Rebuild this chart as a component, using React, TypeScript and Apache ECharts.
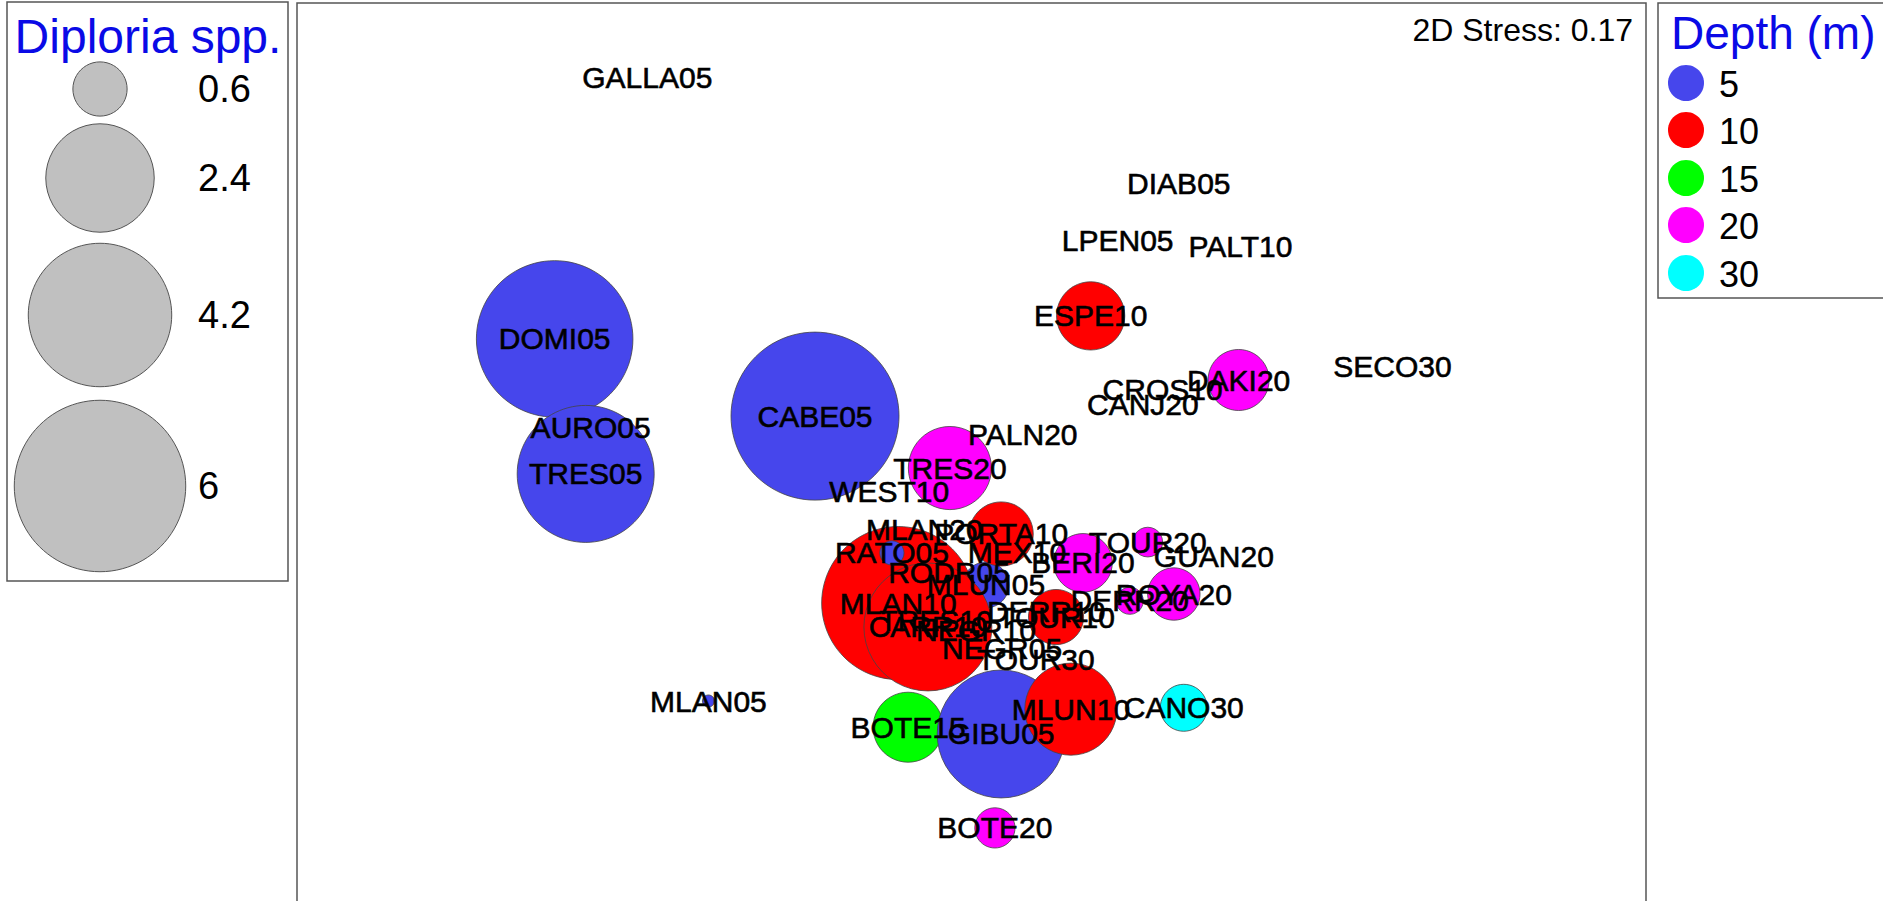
import React, { useEffect, useRef } from "react";
import * as echarts from "echarts";

// MDS sample names, in drawing order
const siteNames = [
  "DOMI05", "TRES05", "CABE05", "ESPE10", "DAKI20", "TRES20", "MLUN05", "MLAN10", "CARR10", "PORTA10",
  "RATO05", "BERI20", "TOUR20", "DERR20", "ROYA20", "TOUR10", "BOTE15", "GIBU05", "MLUN10", "CANO30",
  "BOTE20", "MLAN05", "GALLA05", "DIAB05", "LPEN05", "PALT10", "SECO30", "CROS10", "CANJ20", "AURO05",
  "PALN20", "WEST10", "MLAN20", "MEX10", "RODR05", "GUAN20", "TRES10", "DERR10", "NEGR10", "NEGR05", "TOUR30",
];
const mdsX = [
  -0.927, -0.858, -0.348, 0.265, 0.594, -0.048, 0.032, -0.163, -0.097, 0.066,
  -0.177, 0.248, 0.392, 0.352, 0.450, 0.188, -0.141, 0.066, 0.221, 0.472,
  0.052, -0.585, -0.721, 0.461, 0.325, 0.598, 0.936, 0.425, 0.381, -0.847,
  0.114, -0.183, -0.105, 0.101, -0.050, 0.539, -0.079, 0.166, 0.010, 0.068, 0.143,
];
const mdsY = [
  0.256, -0.043, 0.085, 0.307, 0.165, -0.030, -0.289, -0.329, -0.382, -0.176,
  -0.218, -0.240, -0.194, -0.324, -0.309, -0.360, -0.604, -0.619, -0.564, -0.561,
  -0.827, -0.546, 0.836, 0.601, 0.473, 0.460, 0.194, 0.145, 0.110, 0.059,
  0.045, -0.081, -0.167, -0.218, -0.262, -0.227, -0.367, -0.347, -0.389, -0.429, -0.453,
];
// Diploria spp. abundance
const diploria = [
  5.0, 3.83, 5.76, 0.95, 0.76, 1.41, 0.43, 4.78, 3.34, 0.84,
  0.12, 0.70, 0.18, 0.15, 0.56, 0.62, 1.0, 3.34, 1.73, 0.45,
  0.33, 0.03, 0, 0, 0, 0, 0, 0, 0, 0,
  0, 0, 0, 0, 0, 0, 0, 0, 0, 0, 0,
];
const depths = [
  5, 5, 5, 10, 20, 20, 5, 10, 10, 10,
  5, 20, 20, 20, 20, 10, 15, 5, 10, 30,
  20, 5, 5, 5, 5, 10, 30, 10, 20, 5,
  20, 10, 20, 10, 5, 20, 10, 10, 10, 5, 30,
];

const depthLevels = [5, 10, 15, 20, 30];
const depthColors = ["#4646ec", "#ff0000", "#00ff00", "#ff00ff", "#00ffff"];
const sizeLegendValues = [0.6, 2.4, 4.2, 6];
const stressText = "2D Stress: 0.17";

const FONT = "'Liberation Sans', Arial, sans-serif";
const diam = (v: number) => 70 * Math.sqrt(v);

export default function App() {
  const ref = useRef<HTMLDivElement>(null);
  useEffect(() => {
    if (!ref.current) return;
    const chart = echarts.init(ref.current, undefined, { renderer: "svg" });
    const bubbleData = siteNames.map((n, i) => ({
      value: [mdsX[i], mdsY[i], diploria[i]],
      name: n,
      itemStyle: { color: depthColors[depthLevels.indexOf(depths[i])] },
    }));
    const labelData = siteNames.map((n, i) => ({ value: [mdsX[i], mdsY[i]], name: n }));

    const legendY = [89, 178, 315, 486];
    const graphics: any[] = [
      { type: "rect", shape: { x: 7, y: 2, width: 281, height: 579 }, style: { fill: "#fff", stroke: "#555", lineWidth: 1.5 }, z: 1 },
      { type: "text", x: 148, y: 36, style: { text: "Diploria spp.", fill: "#0a0ae6", font: `48px ${FONT}`, align: "center", verticalAlign: "middle" }, z: 2 },
      { type: "rect", shape: { x: 1658, y: 3, width: 240, height: 295 }, style: { fill: "#fff", stroke: "#555", lineWidth: 1.5 }, z: 1 },
      { type: "text", x: 1671, y: 33, style: { text: "Depth (m)", fill: "#0a0ae6", font: `46px ${FONT}`, align: "left", verticalAlign: "middle" }, z: 2 },
      { type: "text", x: 1633, y: 30, style: { text: stressText, fill: "#000", font: `32px ${FONT}`, align: "right", verticalAlign: "middle" }, z: 10 },
    ];
    sizeLegendValues.forEach((v, i) => {
      graphics.push({ type: "circle", shape: { cx: 100, cy: legendY[i], r: diam(v) / 2 }, style: { fill: "#c0c0c0", stroke: "#555", lineWidth: 1 }, z: 2 });
      graphics.push({ type: "text", x: 198, y: legendY[i], style: { text: String(v), fill: "#000", font: `38px ${FONT}`, align: "left", verticalAlign: "middle" }, z: 2 });
    });
    const depthY = [83, 130, 178, 225, 273];
    depthLevels.forEach((d, i) => {
      graphics.push({ type: "circle", shape: { cx: 1686, cy: depthY[i], r: 18 }, style: { fill: depthColors[i] }, z: 2 });
      graphics.push({ type: "text", x: 1719, y: depthY[i] + 1, style: { text: String(d), fill: "#000", font: `36px ${FONT}`, align: "left", verticalAlign: "middle" }, z: 2 });
    });

    chart.setOption({
      animation: false,
      grid: { left: 297, top: 3, width: 1349, height: 903, show: true, borderColor: "#555", borderWidth: 1.5, backgroundColor: "#fff" },
      xAxis: { type: "value", min: -1.5, max: 1.5, show: false },
      yAxis: { type: "value", min: -1, max: 1, show: false },
      series: [
        {
          type: "scatter",
          data: bubbleData,
          symbol: "circle",
          symbolSize: (val: number[]) => diam(val[2]),
          itemStyle: { borderColor: "#444", borderWidth: 0.8, opacity: 1 },
          emphasis: { disabled: true },
          z: 2,
        },
        {
          type: "scatter",
          data: labelData,
          symbolSize: 1,
          itemStyle: { color: "rgba(0,0,0,0)" },
          label: {
            show: true,
            position: "inside",
            formatter: "{b}",
            color: "#000",
            opacity: 1,
            textBorderWidth: 0.6,
            textBorderColor: "#000",
            fontSize: 30,
            fontFamily: FONT,
          },
          emphasis: { disabled: true },
          z: 5,
        },
      ],
      graphic: graphics,
    });
    return () => chart.dispose();
  }, []);
  return <div ref={ref} style={{ position: "fixed", left: 0, top: 0, width: 1883, height: 912, background: "#fff" }} />;
}
